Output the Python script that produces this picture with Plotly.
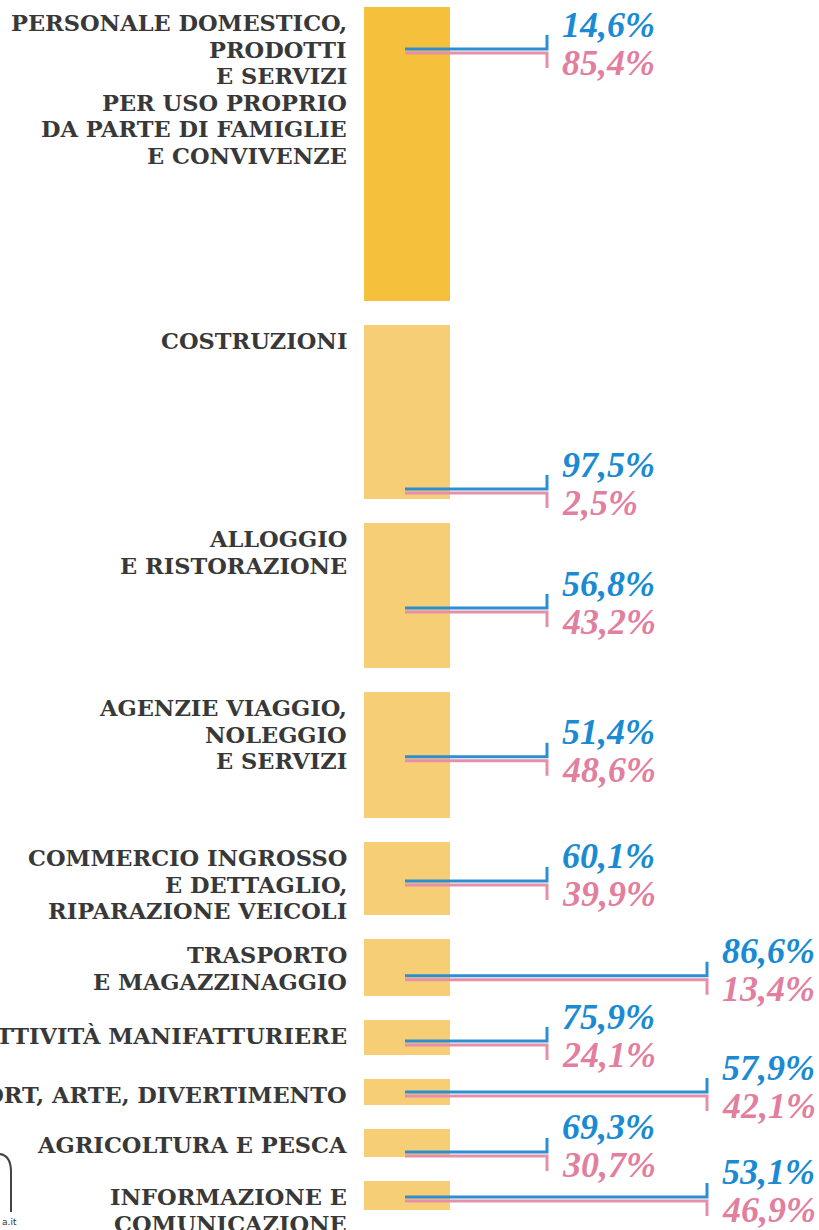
import plotly.graph_objects as go

# settori e dati
settori = [
    "PERSONALE DOMESTICO,<br>PRODOTTI<br>E SERVIZI<br>PER USO PROPRIO<br>DA PARTE DI FAMIGLIE<br>E CONVIVENZE",
    "COSTRUZIONI",
    "ALLOGGIO<br>E RISTORAZIONE",
    "AGENZIE VIAGGIO,<br>NOLEGGIO<br>E SERVIZI",
    "COMMERCIO INGROSSO<br>E DETTAGLIO,<br>RIPARAZIONE VEICOLI",
    "TRASPORTO<br>E MAGAZZINAGGIO",
    "ATTIVITÀ MANIFATTURIERE",
    "SPORT, ARTE, DIVERTIMENTO",
    "AGRICOLTURA E PESCA",
    "INFORMAZIONE E<br>COMUNICAZIONE",
]
peso = [294, 174, 145, 126, 73, 57, 35, 26, 28, 29]
uomini = [14.6, 97.5, 56.8, 51.4, 60.1, 86.6, 75.9, 57.9, 69.3, 53.1]
donne = [85.4, 2.5, 43.2, 48.6, 39.9, 13.4, 24.1, 42.1, 30.7, 46.9]

# impaginazione dei collegamenti (quota nella barra, lunghezza)
link_pos = [0.15, 0.954, 0.60, 0.53, 0.56, 0.68, 0.66, 0.58, 0.89, 0.62]
link_long = [False, False, False, False, False, True, False, True, False, True]

W, H = 819, 1230
BAR_X, BAR_W, GAP = 407, 86, 24
LINE_X0, END_SHORT, END_LONG = 405, 547, 707
BLUE, PINK, GREY = "#1a8bd3", "#e27f9f", "#383838"
LABEL_SIZE, LABEL_LEAD = 22.5, 26.5

tops = []
t = 7
for h in peso:
    tops.append(t)
    t += h + GAP

fig = go.Figure()

bar_colors = ["#f5c13c"] + ["#f6ce75"] * (len(peso) - 1)
fig.add_trace(go.Bar(
    x=[BAR_X] * len(peso), y=peso, base=tops, width=BAR_W,
    marker=dict(color=bar_colors, line_width=0), hoverinfo="skip",
))


def fmt(v):
    return f"{v:.1f}%".replace(".", ",")


bx, by, px, py = [], [], [], []
annotations = []
for i, h in enumerate(peso):
    ly = tops[i] + link_pos[i] * h
    yb, yp = ly - 2, ly + 2
    xe = END_LONG if link_long[i] else END_SHORT
    bx += [LINE_X0, xe, xe, None]
    by += [yb, yb, yb - 14, None]
    px += [LINE_X0, xe, xe, None]
    py += [yp, yp, yp + 15, None]

    for txt, base, col in [(fmt(uomini[i]), yb - 12.5, BLUE),
                           (fmt(donne[i]), yb + 25.5, PINK)]:
        annotations.append(dict(
            x=xe + 13, y=base - 12, text=txt, showarrow=False,
            xanchor="left", yanchor="middle",
            font=dict(family="Liberation Serif", size=36, color=col,
                      weight="bold", style="italic"),
        ))

    # etichetta, una riga alla volta per controllare l'interlinea
    for k, riga in enumerate(settori[i].split("<br>")):
        base = tops[i] + 24 + k * LABEL_LEAD
        annotations.append(dict(
            x=349, y=base - 8, text=riga, showarrow=False,
            xanchor="right", yanchor="middle",
            font=dict(family="DejaVu Serif", size=LABEL_SIZE, color=GREY,
                      weight="bold"),
        ))

fig.add_trace(go.Scatter(x=px, y=py, mode="lines",
                         line=dict(color="#e58fab", width=3), hoverinfo="skip"))
fig.add_trace(go.Scatter(x=bx, y=by, mode="lines",
                         line=dict(color="#2b8fd2", width=3), hoverinfo="skip"))

# frammento del logo in basso a sinistra
annotations.append(dict(x=0, y=1222, text="a.it", showarrow=False,
                        xanchor="left", yanchor="middle",
                        font=dict(family="DejaVu Sans", size=9, color="#333333")))

fig.update_layout(
    width=W, height=H, margin=dict(l=0, r=0, t=0, b=0),
    plot_bgcolor="white", paper_bgcolor="white",
    showlegend=False, annotations=annotations,
    xaxis=dict(range=[0, W], visible=False, fixedrange=True),
    yaxis=dict(range=[H, 0], visible=False, fixedrange=True),
    shapes=[dict(type="path", xref="x", yref="y",
                 path="M -2,1154 Q 11,1154 11,1172 L 11,1212",
                 line=dict(color="#444444", width=2))],
)

fig.write_html("out.html", config={"displayModeBar": False},
               post_script="document.body.style.margin='0';")
